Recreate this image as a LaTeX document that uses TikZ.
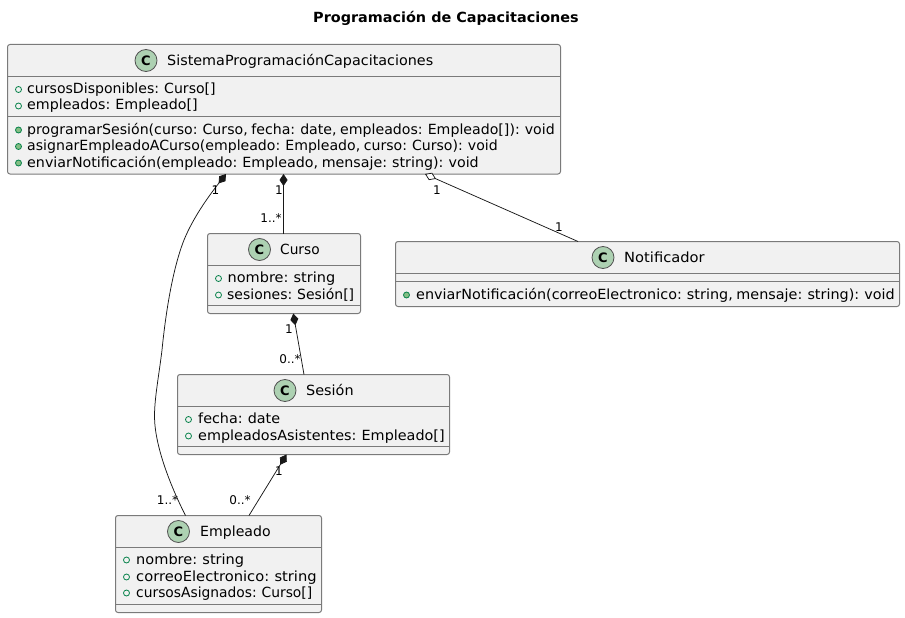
\documentclass[tikz,border=0pt]{standalone}
\usepackage{fontspec}
\setmainfont{DejaVu Sans}
\usetikzlibrary{arrows.meta,calc}
\definecolor{boxfill}{HTML}{F1F1F1}
\definecolor{boxline}{HTML}{181818}
\definecolor{edgegray}{HTML}{7A7A7A}
\definecolor{badge}{HTML}{ADD1B2}
\definecolor{visline}{HTML}{038048}
\definecolor{visfill}{HTML}{84BE84}
\tikzset{
  classbox/.style={draw=edgegray,line width=1pt,fill=boxfill,rounded corners=2.5pt,anchor=north west,inner sep=0pt,outer sep=0pt},
  sepline/.style={draw=edgegray,line width=1pt},
  classname/.style={anchor=base west,inner sep=0pt,font=\fontsize{14}{16}\selectfont,text=black},
  member/.style={anchor=base west,inner sep=0pt,font=\fontsize{14}{16}\selectfont,text=black},
  badgedisc/.style={circle,draw=boxline!75,line width=0.8pt,fill=badge,minimum size=22pt,inner sep=0pt,font=\fontsize{13}{16}\selectfont\bfseries},
  attrdot/.style={draw=visline,line width=0.8pt,fill=none},
  methdot/.style={draw=visline,line width=0.8pt,fill=visfill},
  link/.style={draw=boxline,line width=0.75pt},
  comp/.style={link,{Diamond[length=12pt,width=8pt,fill=boxline]}-},
  aggr/.style={link,{Diamond[length=12pt,width=8pt,open,fill=white]}-},
  mult/.style={inner sep=0pt,font=\fontsize{12}{14}\selectfont,text=black},
}
\newcommand{\umlclass}[7]{%
  \node[classbox,minimum width=#4pt-#2pt,minimum height=#5pt-#3pt] (#1) at (#2,#3) {};
  \draw[sepline] (#2,#6) -- (#4,#6);
  \draw[sepline] (#2,#7) -- (#4,#7);
}
\newcommand{\attrmark}[2]{\draw[attrdot] (#1,#2) circle (3pt);}
\newcommand{\methmark}[2]{\draw[methdot] (#1,#2) circle (3pt);}
\newcommand{\fitw}[2]{\resizebox{#1pt}{\height}{#2}}
\newcommand{\fitm}[2]{\resizebox{#1pt}{\height}{\spaceskip=0.25em\relax #2}}
\begin{document}
\begin{tikzpicture}[x=1pt,y=-1pt]
\useasboundingbox (0,0) rectangle (905,618);
\node[anchor=base west,inner sep=0pt,font=\fontsize{14}{16}\selectfont\bfseries] (title) at (313,23) {\fitw{265.5}{Programación de Capacitaciones}};

% Sistema
\umlclass{sistema}{7.5}{44.5}{560.5}{174}{76.5}{116.5}
\node[badgedisc] (sistemaC) at (146,60.5) {C};
\node[classname] (sistemaN) at (167,65.5) {\fitw{266}{SistemaProgramaciónCapacitaciones}};
\attrmark{18.5}{89.5}\attrmark{18.5}{106}
\methmark{18.5}{130}\methmark{18.5}{146.5}\methmark{18.5}{163}
\node[member] (s1) at (27,93) {\fitm{188.5}{cursosDisponibles: Curso[]}};
\node[member] (s2) at (27,110) {\fitm{170.5}{empleados: Empleado[]}};
\node[member] (s3) at (27,134) {\fitm{527.5}{programarSesión(curso: Curso, fecha: date, empleados: Empleado[]): void}};
\node[member] (s4) at (27,150) {\fitm{470.5}{asignarEmpleadoACurso(empleado: Empleado, curso: Curso): void}};
\node[member] (s5) at (27,167) {\fitm{451.5}{enviarNotificación(empleado: Empleado, mensaje: string): void}};

% Curso
\umlclass{curso}{207.5}{233.5}{360.5}{313.5}{265.5}{305.5}
\node[badgedisc] (cursoC) at (259.5,249.5) {C};
\node[classname] (cursoN) at (280,254.5) {\fitw{39.5}{Curso}};
\attrmark{218.5}{278.5}\attrmark{218.5}{295}
\node[member] (c1) at (227.5,282) {\fitm{107.5}{nombre: string}};
\node[member] (c2) at (227,299) {\fitm{127}{sesiones: Sesión[]}};

% Notificador
\umlclass{notif}{395.5}{241.5}{899.5}{306.5}{273.5}{281.5}
\node[badgedisc] (notifC) at (603,257.5) {C};
\node[classname] (notifN) at (624,262.5) {\fitw{80.5}{Notificador}};
\methmark{406.5}{295}
\node[member] (n1) at (416,299) {\fitm{478.5}{enviarNotificación(correoElectronico: string, mensaje: string): void}};

% Sesion
\umlclass{sesion}{177.5}{374.5}{449.5}{454.5}{406.5}{446.5}
\node[badgedisc] (sesionC) at (285,390.5) {C};
\node[classname] (sesionN) at (306,395.5) {\fitw{47.5}{Sesión}};
\attrmark{188.5}{419.5}\attrmark{188.5}{436}
\node[member] (e1) at (198,423) {\fitm{82}{fecha: date}};
\node[member] (e2) at (198,440) {\fitm{246.5}{empleadosAsistentes: Empleado[]}};

% Empleado
\umlclass{empleado}{115.5}{515.5}{321.5}{612.5}{547.5}{604.5}
\node[badgedisc] (empleadoC) at (178.5,531.5) {C};
\node[classname] (empleadoN) at (200,536.5) {\fitw{70.5}{Empleado}};
\attrmark{126.5}{560}\attrmark{126.5}{577}\attrmark{126.5}{593}
\node[member] (m1) at (136,564) {\fitm{108}{nombre: string}};
\node[member] (m2) at (136,581) {\fitm{180.5}{correoElectronico: string}};
\node[member] (m3) at (136,597) {\fitm{176}{cursosAsignados: Curso[]}};

% Connector ends on the box edges
\coordinate (sE) at ($(sistema.south west)+(218.5,0)$);
\coordinate (sC) at ($(sistema.south west)+(276,0)$);
\coordinate (sN) at ($(sistema.south west)+(417.5,0)$);
\coordinate (cT) at ($(curso.north west)+(76,0)$);
\coordinate (cB) at ($(curso.south west)+(85.8,0)$);
\coordinate (nT) at ($(notif.north west)+(182.5,0)$);
\coordinate (eT) at ($(sesion.north west)+(126.5,0)$);
\coordinate (eB) at ($(sesion.south west)+(109,0)$);
\coordinate (mA) at ($(empleado.north west)+(70,0)$);
\coordinate (mB) at ($(empleado.north west)+(133.5,0)$);

\draw[comp] (sE) .. controls (208,197) and (193,218) .. (184,240) .. controls (173,268) and (166,310) .. (162,350) .. controls (159,375) and (154.5,398) .. (154.5,416) .. controls (154.5,445) and (170,485) .. (mA);
\draw[comp] (sC) -- (cT);
\draw[aggr] (sN) -- (nT);
\draw[comp] (cB) -- (eT);
\draw[comp] (eB) -- (mB);

\node[mult] (l1) at (215.5,190) {1};
\node[mult] (l2) at (279,190) {1};
\node[mult] (l3) at (271,218) {1..*};
\node[mult] (l4) at (437,190) {1};
\node[mult] (l5) at (559,227) {1};
\node[mult] (l6) at (289,329) {1};
\node[mult] (l7) at (290,359) {0..*};
\node[mult] (l8) at (279,471) {1};
\node[mult] (l9) at (240,500) {0..*};
\node[mult] (l10) at (167.5,500) {1..*};
\end{tikzpicture}
\end{document}
